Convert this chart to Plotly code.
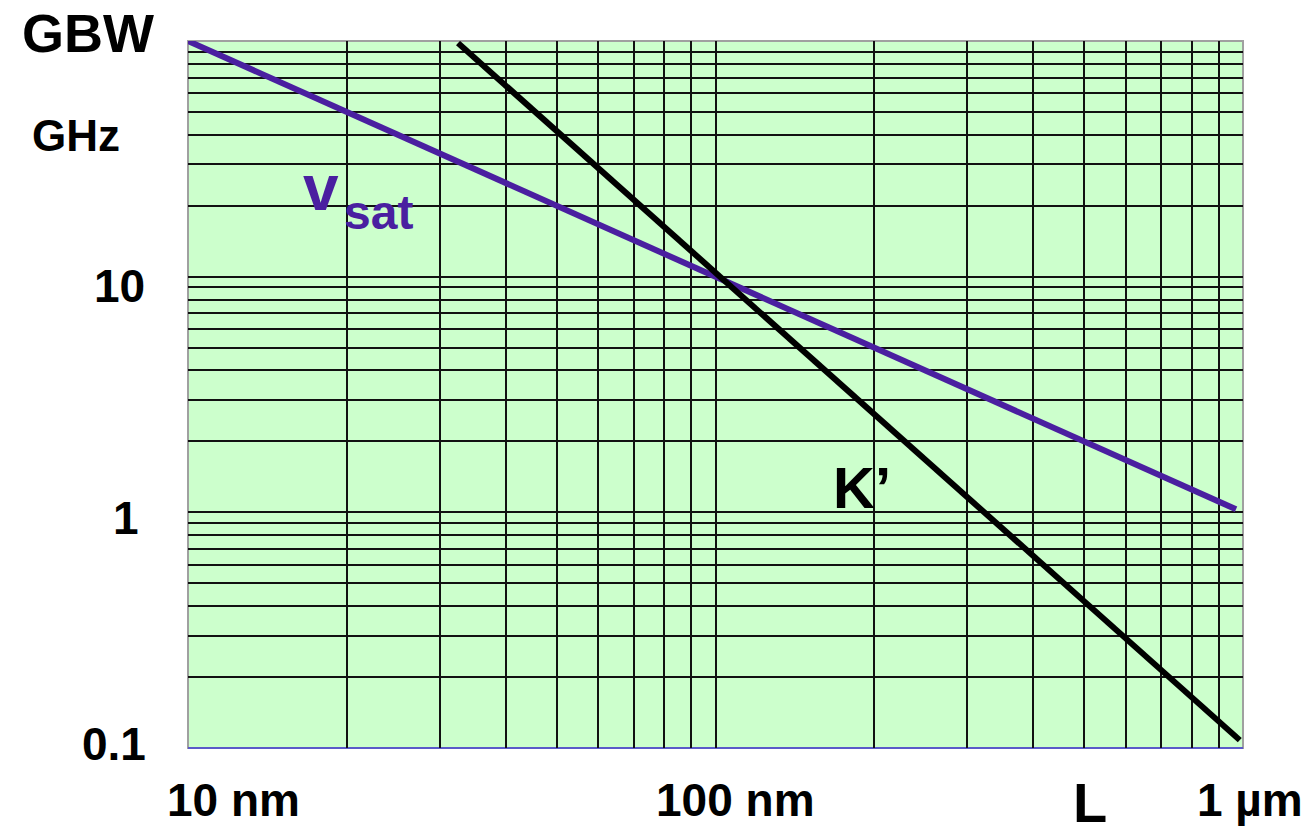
import plotly.graph_objects as go
import math

# ---- data ----
vsat_L = [10, 970]          # nm
vsat_gbw = [100, 1.03]      # GHz
kprime_L = [32.5, 986]      # nm
kprime_gbw = [98, 0.108]    # GHz

x_grid = [10, 20, 30, 40, 50, 60, 70, 80, 90, 100, 200, 300, 400, 500, 600, 700, 800, 900, 1000]
y_grid = [0.1, 0.2, 0.3, 0.4, 0.5, 0.6, 0.7, 0.8, 0.9, 1, 2, 3, 4, 5, 6, 7, 8, 9,
          10, 20, 30, 40, 50, 60, 70, 80, 90, 100]

y_tick_vals = [10, 1, 0.1]
y_tick_text = ["10", "1", "0.1"]
x_tick_vals = [10, 100, 1000]
x_tick_text = ["10 nm", "100 nm", "1 µm"]

PURPLE = "#4a1fa0"
FONT = "Liberation Sans, Arial, Helvetica, sans-serif"

# page offset from default body margin
OFF = 8
W, H = 1313 - OFF, 830 - OFF
# plot area in page pixels: x 188..1243, y 41..748
L_M, R_M, T_M, B_M = 188 - OFF, 1313 - 1243 - OFF + OFF, 41 - OFF, 830 - 748
R_M = W - (1243 - OFF)
B_M = H - (748 - OFF)
PW, PH = W - L_M - R_M, H - T_M - B_M


def px(xpage):
    return (xpage - OFF - L_M) / PW


def py(ypage):
    return (H - B_M - (ypage - OFF)) / PH


fig = go.Figure()
fig.add_trace(go.Scatter(x=vsat_L, y=vsat_gbw, mode="lines",
                         line=dict(color=PURPLE, width=6), hoverinfo="skip"))
fig.add_trace(go.Scatter(x=kprime_L, y=kprime_gbw, mode="lines",
                         line=dict(color="black", width=6), hoverinfo="skip"))

fig.update_xaxes(type="log", range=[1, 3], tickvals=x_grid, showticklabels=False,
                 showgrid=True, gridcolor="#111111", gridwidth=1.5, ticks="",
                 showline=False, zeroline=False, fixedrange=True)
fig.update_yaxes(type="log", range=[-1, 2], tickvals=y_grid, showticklabels=False,
                 showgrid=True, gridcolor="#111111", gridwidth=1.5, ticks="",
                 showline=False, zeroline=False, fixedrange=True)

# frame
fig.add_shape(type="rect", xref="paper", yref="paper", x0=0, y0=0, x1=1, y1=1,
              line=dict(color="#a0a0a0", width=2), layer="between")
fig.add_shape(type="line", xref="paper", yref="paper", x0=0, y0=0, x1=1, y1=0,
              line=dict(color="#5a5ac8", width=2), layer="between")

ann = []
# y tick labels
y_shifts = [-9, -6, 4]
y_right = [147, 141, 148]
for v, t, s, r in zip(y_tick_vals, y_tick_text, y_shifts, y_right):
    ann.append(dict(x=px(r), y=math.log10(v), xref="paper", yref="y", text="<b>%s</b>" % t,
                    xanchor="right", yanchor="middle", yshift=s, showarrow=False,
                    font=dict(size=46, color="black", family=FONT)))
# x tick labels
x_shifts = [45, 20, 7]
for v, t, s in zip(x_tick_vals, x_tick_text, x_shifts):
    ann.append(dict(x=math.log10(v), y=py(800), xref="x", yref="paper", text="<b>%s</b>" % t,
                    xanchor="center", yanchor="middle", xshift=s, showarrow=False,
                    font=dict(size=46, color="black", family=FONT)))
# axis titles
ann.append(dict(x=px(88), y=py(33), xref="paper", yref="paper", text="<b>GBW</b>",
                showarrow=False, xanchor="center", yanchor="middle",
                font=dict(size=54, color="black", family=FONT)))
ann.append(dict(x=px(76), y=py(136), xref="paper", yref="paper", text="<b>GHz</b>",
                showarrow=False, xanchor="center", yanchor="middle",
                font=dict(size=44, color="black", family=FONT)))
ann.append(dict(x=px(1090), y=py(803), xref="paper", yref="paper", text="<b>L</b>",
                showarrow=False, xanchor="center", yanchor="middle",
                font=dict(size=56, color="black", family=FONT)))
# curve labels
ann.append(dict(x=px(321), y=py(188), xref="paper", yref="paper", text="<b>v</b>",
                showarrow=False, xanchor="center", yanchor="middle",
                font=dict(size=64, color=PURPLE, family=FONT)))
ann.append(dict(x=px(378), y=py(212), xref="paper", yref="paper", text="<b>sat</b>",
                showarrow=False, xanchor="center", yanchor="middle",
                font=dict(size=48, color=PURPLE, family=FONT)))
ann.append(dict(x=px(862), y=py(488), xref="paper", yref="paper", text="<b>K’</b>",
                showarrow=False, xanchor="center", yanchor="middle",
                font=dict(size=58, color="black", family=FONT)))

fig.update_layout(width=W, height=H, margin=dict(l=L_M, r=R_M, t=T_M, b=B_M),
                  plot_bgcolor="#ccffcc", paper_bgcolor="white", showlegend=False,
                  annotations=ann)

fig.write_html("out.html")
